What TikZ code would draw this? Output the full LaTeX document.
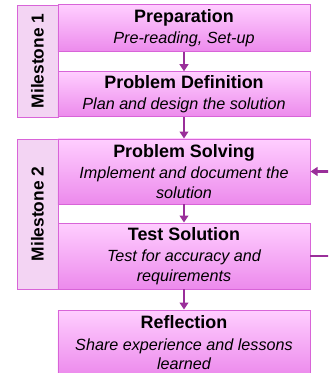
\documentclass[tikz,border=0pt]{standalone}
\usepackage{fontspec}
\setmainfont{Liberation Sans}
\usepackage{tikz}
\usetikzlibrary{positioning}
\usetikzlibrary{arrows.meta}
\definecolor{boxtop}{HTML}{FFCEFF}
\definecolor{boxbot}{HTML}{EC8AEC}
\definecolor{boxline}{HTML}{D864D8}
\definecolor{milefill}{HTML}{F3D4F3}
\definecolor{arrowc}{HTML}{9A2F9A}
\newcommand{\stitle}[1]{{\fontsize{15.3}{18}\selectfont\bfseries\upshape #1}}

\begin{document}
\begin{tikzpicture}
                    [
                    x=0.03cm, y=-0.03cm,
                    stage/.style={shape=rectangle, draw=boxline, line width=0.8pt, top color=boxtop, bottom color=boxbot, minimum width=7.56cm, align=center, inner sep=0pt, font=\fontsize{13.8}{17}\selectfont\itshape},
                    mile/.style={shape=rectangle, draw=boxline, line width=0.8pt, fill=milefill, rotate=90, minimum height=1.23cm, inner sep=0pt, font=\fontsize{14.8}{17}\selectfont\bfseries},
                    arr/.style={-{Triangle[width=7.5pt,length=6pt]}, color=arrowc, line width=1.9pt},
                    ]
                    % % 辅助网格
                    % \draw[step=10,help lines] (0,0) grid (328,373);
                    \useasboundingbox (0,0) rectangle (328,373);
                    \clip (0,0) rectangle (328,373);
                    %
                    \node[mile, minimum width=3.36cm] (ms1) at (37.5,61) {Milestone 1};
                    \node[mile, minimum width=4.50cm] (ms2) at (37.5,214) {Milestone 2};

                    \node[stage, minimum height=1.40cm] (prep) at (184,28.3) {\stitle{Preparation}\\[1pt] Pre-reading, Set-up};
                    \node[stage, minimum height=1.35cm] (define) at (184,94.2) {\stitle{Problem Definition}\\[1pt] Plan and design the solution};
                    \node[stage, minimum height=1.95cm] (solve) at (184,171.5) {\stitle{Problem Solving}\\[1pt] Implement and document the\\ solution};
                    \node[stage, minimum height=1.98cm] (test) at (184,256) {\stitle{Test Solution}\\[1pt] Test for accuracy and\\ requirements};
                    \node[stage, minimum height=1.98cm] (reflect) at (184,343) {\stitle{Reflection}\\[1pt] Share experience and lessons\\ learned};
                    %
                    \path[arr]
                        (prep) edge (define)
                        (define) edge (solve)
                        (solve) edge (test)
                        (test) edge (reflect)
                    ;
                    \draw[arr] (test.east) -- ++(40,0) |- (solve.east);
                \end{tikzpicture}
\end{document}
